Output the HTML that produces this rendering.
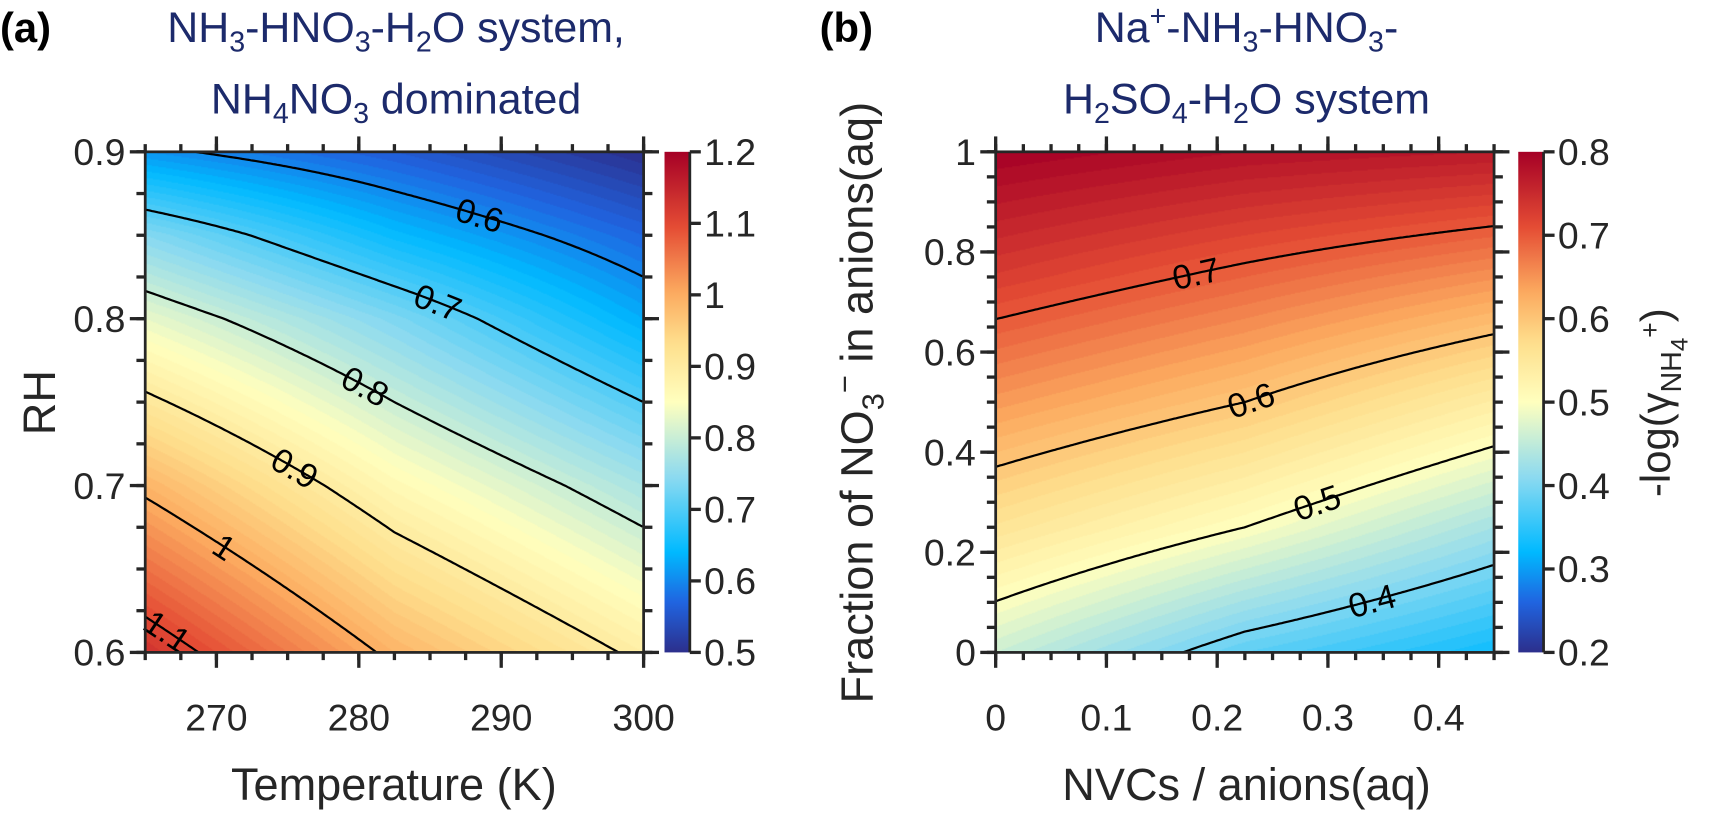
<!DOCTYPE html>
<html><head><meta charset="utf-8">
<style>
html,body{margin:0;padding:0;background:#fff;overflow:hidden;width:1735px;height:813px;}
#wrap{position:relative;width:1577px;height:739px;overflow:hidden;font-family:"Liberation Sans",Arial,sans-serif;transform:scale(1.10019);transform-origin:0 0;}
canvas{position:absolute;}
svg{position:absolute;left:0;top:0;}
</style></head>
<body>
<div id="wrap">
<canvas id="cvA" width="453" height="455" style="left:132px;top:138px"></canvas>
<canvas id="cvB" width="453" height="455" style="left:905px;top:138px"></canvas>
<svg id="sv" width="1577" height="739">
<defs><linearGradient id="cmap" x1="0" y1="1" x2="0" y2="0"></linearGradient></defs>
<g id="layer"></g>
<text x="0" y="38" font-size="38" font-weight="bold" fill="#000">(a)</text>
<text x="745" y="38" font-size="38" font-weight="bold" fill="#000">(b)</text>
<text x="360" y="38" font-size="39" fill="#1c2a6b" text-anchor="middle">NH<tspan font-size="26" dy="9">3</tspan><tspan dy="-9">-HNO</tspan><tspan font-size="26" dy="9">3</tspan><tspan dy="-9">-H</tspan><tspan font-size="26" dy="9">2</tspan><tspan dy="-9">O system,</tspan></text>
<text x="360" y="103" font-size="39" fill="#1c2a6b" text-anchor="middle">NH<tspan font-size="26" dy="9">4</tspan><tspan dy="-9">NO</tspan><tspan font-size="26" dy="9">3</tspan><tspan dy="-9"> dominated</tspan></text>
<text x="1133" y="38" font-size="39" fill="#1c2a6b" text-anchor="middle">Na<tspan font-size="26" dy="-15">+</tspan><tspan dy="15">-NH</tspan><tspan font-size="26" dy="9">3</tspan><tspan dy="-9">-HNO</tspan><tspan font-size="26" dy="9">3</tspan><tspan dy="-9">-</tspan></text>
<text x="1133" y="103" font-size="39" fill="#1c2a6b" text-anchor="middle">H<tspan font-size="26" dy="9">2</tspan><tspan dy="-9">SO</tspan><tspan font-size="26" dy="9">4</tspan><tspan dy="-9">-H</tspan><tspan font-size="26" dy="9">2</tspan><tspan dy="-9">O system</tspan></text>
<text x="358" y="727" font-size="41" fill="#262626" text-anchor="middle">Temperature (K)</text>
<text x="1133" y="727" font-size="41" fill="#262626" text-anchor="middle">NVCs / anions(aq)</text>
<text transform="translate(50,366) rotate(-90)" font-size="41" fill="#262626" text-anchor="middle">RH</text>
<text transform="translate(793,366) rotate(-90)" font-size="41" fill="#262626" text-anchor="middle">Fraction of NO<tspan font-size="28" dy="10">3</tspan><tspan font-size="28" dy="-26">−</tspan><tspan dy="16"> in anions(aq)</tspan></text>
<text transform="translate(1518,366) rotate(-90)" font-size="38" fill="#262626" text-anchor="middle">-log(γ<tspan font-size="26" dy="10">NH</tspan><tspan font-size="22" dy="6">4</tspan><tspan font-size="24" dy="-26">+</tspan><tspan dy="10">)</tspan></text>
</svg>
</div>
<script>
// ---- Panel (a) data ----
const aTemps=[265,282.5,300];
const aRH=[0.6,0.7,0.8,0.85,0.9];
const aZrow060=[1.13,0.99,0.89];
const aZrow070=[0.99,0.865,0.77];
const aZrow080=[0.83,0.735,0.63];
const aZrow085=[0.74,0.645,0.57];
const aZrow090=[0.61,0.56,0.5];
const aLevels=[0.6,0.7,0.8,0.9,1.0,1.1];
const aLevelLabels=["0.6","0.7","0.8","0.9","1","1.1"];
const aLabelT=[288.5,285.5,280.5,275.5,270.5,266.5];
const aXTicks=[270,280,290,300];
const aYTicks=[0.6,0.7,0.8,0.9];
const aCbTicks=[0.5,0.6,0.7,0.8,0.9,1.0,1.1,1.2];
const aCbLabels=["0.5","0.6","0.7","0.8","0.9","1","1.1","1.2"];
// ---- Panel (b) data ----
const bX=[0,0.225,0.45];
const bF=[0,0.25,0.5,0.75,1];
const bZrow000=[0.46,0.38,0.33];
const bZrow025=[0.558,0.50,0.43];
const bZrow050=[0.645,0.6,0.538];
const bZrow075=[0.728,0.69,0.652];
const bZrow100=[0.80,0.78,0.77];
const bLevels=[0.4,0.5,0.6,0.7];
const bLevelLabels=["0.4","0.5","0.6","0.7"];
const bLabelX=[0.34,0.29,0.23,0.18];
const bXTicks=[0,0.1,0.2,0.3,0.4];
const bXTickLabels=["0","0.1","0.2","0.3","0.4"];
const bYTicks=[0,0.2,0.4,0.6,0.8,1];
const bYTickLabels=["0","0.2","0.4","0.6","0.8","1"];
const bCbTicks=[0.2,0.3,0.4,0.5,0.6,0.7,0.8];

const aZ=[aZrow060,aZrow070,aZrow080,aZrow085,aZrow090];
const bZ=[bZrow000,bZrow025,bZrow050,bZrow075,bZrow100];

const stops=[[0,[44,47,140]],[0.1,[32,100,224]],[0.2,[0,185,255]],[0.35,[140,218,240]],[0.5,[255,255,190]],[0.62,[254,222,140]],[0.72,[252,170,95]],[0.85,[228,76,52]],[1,[165,0,38]]];
function cmap(t){t=Math.max(0,Math.min(1,t));for(let i=1;i<stops.length;i++){if(t<=stops[i][0]){const a=stops[i-1],b=stops[i];const u=(t-a[0])/(b[0]-a[0]);return a[1].map((v,k)=>Math.round(v+(b[1][k]-v)*u));}}return stops[stops.length-1][1];}
function idx(arr,v){for(let i=0;i<arr.length-1;i++){if(v<=arr[i+1])return i;}return arr.length-2;}
function interp(xs,ys,Z,x,y){const i=idx(xs,x),j=idx(ys,y);const u=(x-xs[i])/(xs[i+1]-xs[i]),w=(y-ys[j])/(ys[j+1]-ys[j]);return Z[j][i]*(1-u)*(1-w)+Z[j][i+1]*u*(1-w)+Z[j+1][i]*(1-u)*w+Z[j+1][i+1]*u*w;}

const NS="http://www.w3.org/2000/svg";
const layer=document.getElementById('layer');
function el(tag,attrs){const e=document.createElementNS(NS,tag);for(const k in attrs)e.setAttribute(k,attrs[k]);layer.appendChild(e);return e;}

function panel(cfg){
  const {L,T,W,H,x0,x1,y0,y1,xs,ys,Z,vmin,vmax,cv}=cfg;
  const sx=v=>L+(v-x0)/(x1-x0)*W, sy=v=>T+H-(v-y0)/(y1-y0)*H;
  const ctx=document.getElementById(cv).getContext('2d');
  const img=ctx.createImageData(W,H);
  for(let py=0;py<H;py++){const dy=y1-(py+0.5)/H*(y1-y0);for(let px=0;px<W;px++){const dx=x0+(px+0.5)/W*(x1-x0);let z=interp(xs,ys,Z,dx,dy);
    z=Math.floor(z*100)/100+0.005;
    const c=cmap((z-vmin)/(vmax-vmin));const o=(py*W+px)*4;img.data[o]=c[0];img.data[o+1]=c[1];img.data[o+2]=c[2];img.data[o+3]=255;}}
  ctx.putImageData(img,0,0);
  cfg.levels.forEach((lv,li)=>{
    let pts=[];
    for(let px=0;px<=W;px+=2){const dx=x0+px/W*(x1-x0);let prev=null;
      for(let k=0;k<=400;k++){const dy=y0+k/400*(y1-y0);const z=interp(xs,ys,Z,dx,dy)-lv;
        if(prev!==null&&(prev[1]<=0)!==(z<=0)){const f=prev[1]/(prev[1]-z);const yy=prev[0]+f*(dy-prev[0]);pts.push([sx(dx),sy(yy)]);break;}
        prev=[dy,z];}}
    if(pts.length>1){
      const p=el('polyline',{points:pts.map(q=>q[0].toFixed(1)+','+q[1].toFixed(1)).join(' '),fill:'none',stroke:'#000','stroke-width':2});
      
      
      const lx=sx(cfg.labelPos[li]);let best=pts[0],bi=0;pts.forEach((q,i)=>{if(Math.abs(q[0]-lx)<Math.abs(best[0]-lx)){best=q;bi=i;}});
      const a=pts[Math.max(0,bi-3)],b=pts[Math.min(pts.length-1,bi+3)];
      const ang=Math.atan2(b[1]-a[1],b[0]-a[0])*180/Math.PI;
      const t=el('text',{x:0,y:11,'font-size':31,'text-anchor':'middle',fill:'#000',transform:`translate(${best[0].toFixed(1)},${best[1].toFixed(1)}) rotate(${ang.toFixed(1)})`});
      t.textContent=cfg.labels[li];
      
      
    }
  });
  const box=el('rect',{x:L,y:T,width:W,height:H,fill:'none',stroke:'#262626','stroke-width':2.5});
  
  
  const tk=(x1_,y1_,x2_,y2_)=>el('line',{x1:x1_,y1:y1_,x2:x2_,y2:y2_,stroke:'#262626','stroke-width':3});
  for(let v=x0;v<=x1+1e-9;v+=cfg.xminor){const X=sx(v);tk(X,T+H,X,T+H+7);tk(X,T,X,T-7);}
  for(let v=y0;v<=y1+1e-9;v+=cfg.yminor){const Y=sy(v);tk(L,Y,L-8,Y);tk(L+W,Y,L+W+8,Y);}
  cfg.xticks.forEach((v,i)=>{const X=sx(v);tk(X,T+H,X,T+H+14);tk(X,T,X,T-14);
    const t=el('text',{x:X,y:T+H+71,'font-size':34,'text-anchor':'middle',fill:'#262626'});t.textContent=cfg.xtl[i];
    
    });
  cfg.yticks.forEach((v,i)=>{const Y=sy(v);tk(L,Y,L-14,Y);tk(L+W,Y,L+W+14,Y);
    const t=el('text',{x:L-18,y:Y+12,'font-size':34,'text-anchor':'end',fill:'#262626'});t.textContent=cfg.ytl[i];
    
    });
  const cbX=cfg.cbX,cbW=23;
  const cb=el('rect',{x:cbX,y:T,width:cbW,height:H,fill:'url(#cmap)'});
  
  
  el('line',{x1:cbX+cbW,y1:T,x2:cbX+cbW,y2:T+H,stroke:'#262626','stroke-width':2.5});
  cfg.cbticks.forEach((v,i)=>{const Y=T+H-(v-vmin)/(vmax-vmin)*H;tk(cbX+cbW,Y,cbX+cbW+10,Y);
    const t=el('text',{x:cbX+cbW+13,y:Y+12,'font-size':34,fill:'#262626'});t.textContent=cfg.cbl[i];
    
    });
}
const g=document.getElementById('cmap');
for(let i=0;i<=40;i++){const c=cmap(i/40);const s=document.createElementNS(NS,'stop');s.setAttribute('offset',(i/40).toFixed(3));s.setAttribute('stop-color',`rgb(${c[0]},${c[1]},${c[2]})`);g.appendChild(s);}

panel({id:'a',cv:'cvA',L:132,T:138,W:453,H:455,x0:265,x1:300,y0:0.6,y1:0.9,xs:aTemps,ys:aRH,Z:aZ,vmin:0.5,vmax:1.2,
  levels:aLevels,labels:aLevelLabels,labelPos:aLabelT,xminor:2.5,yminor:0.025,
  xticks:aXTicks,xtl:aXTicks.map(String),yticks:aYTicks,ytl:aYTicks.map(v=>v.toFixed(1)),
  cbX:604,cbticks:aCbTicks,cbl:aCbLabels});
panel({id:'b',cv:'cvB',L:905,T:138,W:453,H:455,x0:0,x1:0.45,y0:0,y1:1,xs:bX,ys:bF,Z:bZ,vmin:0.2,vmax:0.8,
  levels:bLevels,labels:bLevelLabels,labelPos:bLabelX,xminor:0.025,yminor:0.05,
  xticks:bXTicks,xtl:bXTickLabels,yticks:bYTicks,ytl:bYTickLabels,
  cbX:1380,cbticks:bCbTicks,cbl:bCbTicks.map(v=>v.toFixed(1))});
</script>
</body></html>
